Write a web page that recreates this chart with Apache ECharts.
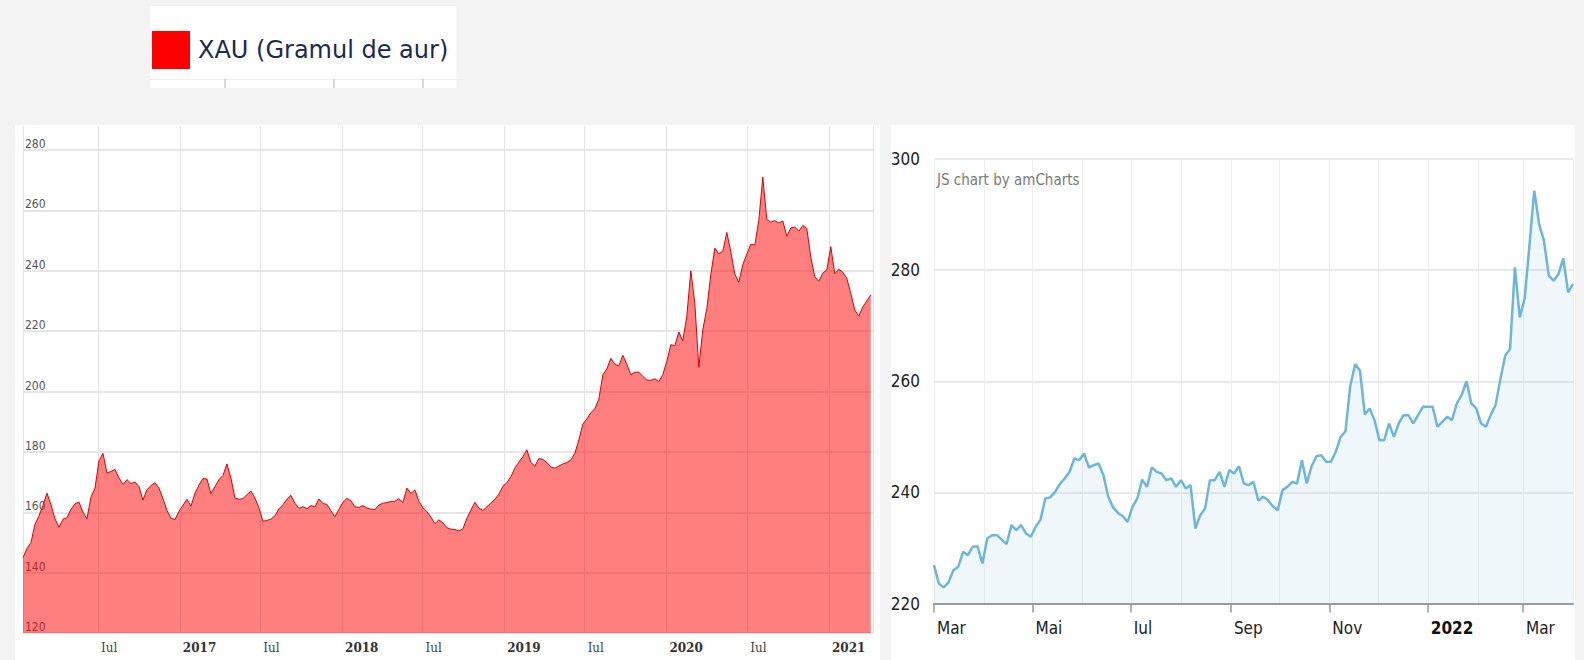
<!DOCTYPE html>
<html>
<head>
<meta charset="utf-8">
<script src="https://cdn.jsdelivr.net/npm/echarts@6/dist/echarts.min.js"></script>
<style>
html,body{margin:0;padding:0;background:#f3f3f3;}
#c{width:1584px;height:660px;}
</style>
</head>
<body>
<div id="c"></div>
<script>
// ---------- DATA ----------
const leftSeriesName = 'XAU (Gramul de aur)';
const leftStart = '2016-01-14';
const leftStepDays = 9;
const leftRange = ['2016-01-14', '2021-04-10'];
const leftValues = [
145,148,150,156,158.8,162.3,166.3,162.5,157.8,155,
157.7,158.2,161,162.8,163.4,160,157.8,165,168,177,
179.5,173,173.5,174.2,171.4,169.2,170.8,169.5,170,168.5,
164,167.5,168.8,169.8,168,164.5,160.6,158,157.6,160.3,
162.3,164.3,162,166.3,169,171.2,171,166.2,168.5,170.8,
172.2,176,171.3,164.7,164.3,164.5,165.8,167,164.7,161.5,
157,157.3,157.7,158.8,161.1,162.5,164.3,165.6,163,161.3,
161.8,161.2,162.2,161.8,164.4,162.9,162.6,160.5,158.5,161,
163.3,164.6,163.8,161.8,161.6,162.2,161.4,161,160.9,162.4,
163,163.2,163.6,163.6,164.5,163.2,168,166.2,167.4,163.6,
161.5,160.2,158.4,156.2,157.5,156.5,154.9,154.4,154.3,153.8,
154.5,158,160.7,163.3,161.4,160.6,161.8,163.1,164.3,166,
168.6,169.8,171.8,174.6,176.6,178.4,180.7,176.5,175.3,177.8,
177.5,176.5,175,174.6,175.3,176,176.5,177.3,179.5,184,
189.2,190.9,193,194.3,197.5,205.5,207.5,211,209,208.5,
212,209,205.5,206.4,206.4,205,203.8,203.7,204.2,203.3,
205.6,210,215.5,215.2,219.7,216.8,225,240,229.2,208,
220.5,227.5,238.7,247.5,245.6,246.5,252.7,246.2,238.9,236.2,
242,245.5,248.8,248.5,256.7,271,257,256.1,256.6,255.8,
256.5,251.4,254.2,254.5,253.1,255,254,244.5,238,236.5,
239.2,240.3,248,239,240.5,239.5,237.5,232.5,227,225,
228,230,232
];
const leftYMin = 120, leftYMax = 280, leftYStep = 20;

const rightStart = '2021-03-01';
const rightStepDays = 3;
const rightRange = ['2021-03-01', '2022-04-01'];
const rightValues = [
226.9,223.6,222.9,223.8,226,226.6,229.3,228.7,230.2,230.3,
227.2,231.7,232.3,232.3,231.5,230.7,234.1,233.2,234.1,232.6,
232,233.8,235.1,238.9,239.1,240.1,241.5,242.5,243.7,246.1,
245.8,247,244.5,244.9,245.2,243.1,239.2,237.3,236.3,235.7,
234.7,237.4,238.9,242.3,241,244.5,243.7,243.4,242.2,242.5,
241,242.2,240.7,241.3,233.5,235.9,237.1,242.2,242.2,243.7,
241,244,243.4,244.7,241.6,241.3,241.9,238.5,239.2,238.6,
237.5,236.8,240.4,241,241.9,241.6,245.8,241.6,244.7,246.5,
246.7,245.5,245.5,247.3,250,251,259.2,263.1,261.9,254,
255.1,253,249.4,249.4,252.4,250,252.4,253.9,253.9,252.4,
253.9,255.4,255.4,255.4,251.8,252.7,253.6,253,256,257.5,
260,256,255.1,252.4,251.8,253.9,255.7,260.4,264.6,265.8,
280.5,271.5,274.8,284.4,294.3,288.3,285.3,279,278.1,279.3,
282.1,276,277.5
];
const rightYMin = 220, rightYMax = 300, rightYStep = 20;

const monthNames = ['Ian','Feb','Mar','Apr','Mai','Iun','Iul','Aug','Sep','Oct','Nov','Dec'];
const watermarkText = 'JS chart by amCharts';

// ---------- helpers ----------
const DAY = 86400000;
function parseD(s){ const p = s.split('-').map(Number); return new Date(p[0], p[1]-1, p[2]).getTime(); }
function build(start, step, values){
  const p = start.split('-').map(Number);
  return values.map((v,i)=>[new Date(p[0], p[1]-1, p[2] + i*step).getTime(), v]);
}
const leftData = build(leftStart, leftStepDays, leftValues);
const rightData = build(rightStart, rightStepDays, rightValues);

const narrow = "'Liberation Sans Narrow','DejaVu Sans Condensed','Roboto Condensed','Open Sans',sans-serif";

function leftFmt(val){
  const d = new Date(val);
  if (d.getDate() !== 1) return '';
  const m = d.getMonth();
  if (m === 0) return '{b|' + d.getFullYear() + '}';
  if (m === 6) return monthNames[6];
  return '';
}
function rightFmt(val){
  const d = new Date(val);
  if (d.getDate() !== 1) return '';
  const m = d.getMonth();
  if (m % 2 === 1) return '';
  if (m === 0) return '{b|' + d.getFullYear() + '}';
  return monthNames[m];
}

const chart = echarts.init(document.getElementById('c'), null, {renderer:'svg'});
const option = {
  animation: false,
  backgroundColor: '#f3f3f3',
  legend: {
    left: 150, top: 6,
    padding: [25, 8, 19, 2],
    backgroundColor: '#ffffff',
    itemWidth: 38, itemHeight: 38,
    selectedMode: false,
    textStyle: {fontSize: 24, color: '#1b2a4e', fontFamily: "'DejaVu Sans',sans-serif", padding: [0,0,0,3]},
    data: [{name: leftSeriesName, icon: 'rect', itemStyle: {color: '#ff0000', borderWidth: 0}}]
  },
  graphic: [
    {type:'rect', z:-10, silent:true, shape:{x:15, y:125, width:865, height:535}, style:{fill:'#ffffff'}},
    {type:'rect', z:-10, silent:true, shape:{x:891, y:125, width:684, height:535}, style:{fill:'#ffffff'}},
    {type:'line', z:100, silent:true, shape:{x1:150, y1:79.5, x2:463, y2:79.5}, style:{stroke:'#eeeeee', lineWidth:1}},
    {type:'line', z:100, silent:true, shape:{x1:225, y1:79, x2:225, y2:88}, style:{stroke:'#cccccc', lineWidth:1.5}},
    {type:'line', z:100, silent:true, shape:{x1:334, y1:79, x2:334, y2:88}, style:{stroke:'#cccccc', lineWidth:1.5}},
    {type:'line', z:100, silent:true, shape:{x1:423, y1:79, x2:423, y2:88}, style:{stroke:'#cccccc', lineWidth:1.5}},
    {type:'text', z:100, silent:true, left:937, top:172, style:{text: watermarkText, fill:'#7a7a7a', fontSize:15, fontFamily: narrow}}
  ],
  grid: [
    {left:23, right:711, top:126, bottom:27},
    {left:23, right:711, top:150, bottom:27},
    {left:934, right:11, top:159, bottom:56.5}
  ],
  xAxis: [
    {gridIndex:0, type:'time', min:parseD(leftRange[0]), max:parseD(leftRange[1]),
     minInterval:200*DAY, maxInterval:200*DAY,
     axisLine:{show:false}, axisTick:{show:false}, axisLabel:{show:false},
     splitLine:{show:true, lineStyle:{color:'#e3e3e3', width:1}}},
    {gridIndex:1, type:'time', min:parseD(leftRange[0]), max:parseD(leftRange[1]),
     minInterval:200*DAY, maxInterval:200*DAY,
     axisLine:{show:false}, axisTick:{show:false}, splitLine:{show:false},
     axisLabel:{formatter:leftFmt, align:'left', margin:9, color:'#444', fontSize:12,
       fontFamily:"'DejaVu Serif',serif", padding:[0,0,0,3],
       showMinLabel:true, showMaxLabel:true, hideOverlap:false,
       rich:{b:{fontWeight:'bold', color:'#333', fontSize:12, fontFamily:"'DejaVu Serif',serif"}}}},
    {gridIndex:2, type:'time', min:parseD(rightRange[0]), max:parseD(rightRange[1]),
     minInterval:70*DAY, maxInterval:70*DAY,
     axisLine:{show:true, lineStyle:{color:'#9a9a9a', width:2}},
     axisTick:{show:true, length:9, lineStyle:{color:'#9a9a9a', width:1.5}},
     splitLine:{show:false},
     axisLabel:{formatter:rightFmt, align:'left', margin:16, color:'#222', fontSize:17,
       fontFamily:narrow, padding:[0,0,0,3], hideOverlap:false,
       rich:{b:{fontWeight:'bold', color:'#111', fontSize:17, fontFamily:narrow}}}},
    {gridIndex:2, type:'time', min:parseD(rightRange[0]), max:parseD(rightRange[1]),
     minInterval:35*DAY, maxInterval:35*DAY,
     axisLine:{show:false}, axisTick:{show:false}, axisLabel:{show:false},
     splitLine:{show:true, lineStyle:{color:'#eeeeee', width:1}}}
  ],
  yAxis: [
    {gridIndex:0, type:'value', min:0, max:1, show:false, splitLine:{show:false}},
    {gridIndex:1, type:'value', min:leftYMin, max:leftYMax, interval:leftYStep,
     axisLine:{show:false}, axisTick:{show:false},
     axisLabel:{inside:true, verticalAlign:'bottom', margin:2, color:'#555', fontSize:12, fontFamily:narrow},
     splitLine:{show:true, lineStyle:{color:'#dedede', width:1.5}}},
    {gridIndex:2, type:'value', min:rightYMin, max:rightYMax, interval:rightYStep,
     axisLine:{show:false}, axisTick:{show:false},
     axisLabel:{margin:14, color:'#222', fontSize:17, fontFamily:narrow},
     splitLine:{show:true, lineStyle:{color:'#e2e2e2', width:1.5}}}
  ],
  series: [
    {name:leftSeriesName, type:'line', xAxisIndex:1, yAxisIndex:1, data:leftData,
     symbol:'none', showSymbol:false, z:2,
     lineStyle:{color:'#dd0000', width:1},
     itemStyle:{color:'#ff0000'},
     areaStyle:{color:'rgba(255,0,0,0.5)', opacity:1, origin:'start'}},
    {name:'XAU 2021-2022', type:'line', xAxisIndex:2, yAxisIndex:2, data:rightData,
     symbol:'none', showSymbol:false, z:2,
     lineStyle:{color:'#6cb6db', width:2.5},
     itemStyle:{color:'#6cb6db'},
     areaStyle:{color:'rgba(108,182,219,0.11)', opacity:1, origin:'start'}}
  ]
};
chart.setOption(option);
</script>
</body>
</html>
